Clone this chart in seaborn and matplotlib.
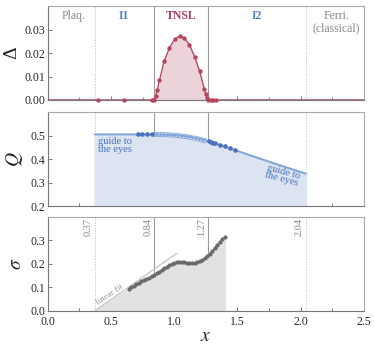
import numpy as np
import pandas as pd
import matplotlib
matplotlib.use("Agg")
import matplotlib.pyplot as plt
import seaborn as sns

sns.set_theme(style="ticks")
plt.rcParams["font.family"] = ["Liberation Serif", "DejaVu Serif"]
plt.rcParams["mathtext.fontset"] = "stix"

# phase boundaries
boundaries = [0.37, 0.84, 1.27, 2.04]
boundary_solid = [False, True, True, False]
boundary_labels = ["0.37", "0.84", "1.27", "2.04"]

regions = ["Plaq.", "I1", "TNSL", "I2", "Ferri.\n(classical)"]
region_x = [0.20, 0.60, 1.055, 1.65, 2.28]
region_colors = ["#888888", "#4f7fc4", "#b13d5e", "#4f7fc4", "#888888"]
region_bold = [False, True, True, True, False]

# Delta (top panel)
delta_x = [0.40, 0.60, 0.82, 0.84, 0.852, 0.865, 0.883, 0.92, 0.962, 1.002,
           1.042, 1.078, 1.12, 1.16, 1.20, 1.237, 1.248, 1.258, 1.27, 1.29,
           1.31, 1.33]
delta_y = [0.0, 0.0, 0.0, 0.0, 0.0019, 0.0043, 0.0086, 0.0166, 0.0224, 0.0261,
           0.0274, 0.0266, 0.0236, 0.0186, 0.0124, 0.0046, 0.0024, 0.0007, 0.0,
           0.0, 0.0, 0.0]

# Q (middle panel)
q_fill_x = [0.71, 0.745, 0.786, 0.825]
q_fill_y = [0.505, 0.505, 0.505, 0.506]
q_open_x = [0.85, 0.878, 0.906, 0.934, 0.962, 0.99, 1.018, 1.046, 1.074, 1.102,
            1.13, 1.158, 1.186, 1.214, 1.24]
q_open_y = [0.505, 0.505, 0.505, 0.504, 0.503, 0.502, 0.501, 0.499, 0.497, 0.495,
            0.492, 0.489, 0.486, 0.482, 0.479]
q_fill2_x = [1.274, 1.29, 1.308, 1.32, 1.36, 1.40, 1.44, 1.48]
q_fill2_y = [0.475, 0.473, 0.470, 0.468, 0.461, 0.454, 0.448, 0.440]
guide_x = [0.37, 0.80, 0.95, 1.05, 1.12, 1.20, 1.27, 1.40, 1.60, 1.80, 2.04]
guide_y = [0.505, 0.505, 0.504, 0.500, 0.495, 0.486, 0.476, 0.453, 0.416, 0.380, 0.338]

# sigma (bottom panel)
sig_x = [0.64, 0.66, 0.68, 0.70, 0.72, 0.74, 0.76, 0.78, 0.80, 0.82, 0.84,
         0.86, 0.88, 0.90, 0.92, 0.94, 0.96, 0.98, 1.00, 1.02, 1.04, 1.06,
         1.08, 1.10, 1.12, 1.14, 1.16, 1.18, 1.20, 1.22, 1.24, 1.26, 1.28,
         1.30, 1.32, 1.34, 1.36, 1.38, 1.40]
sig_y = [0.095, 0.102, 0.108, 0.114, 0.120, 0.126, 0.131, 0.136, 0.141, 0.147,
         0.153, 0.160, 0.167, 0.174, 0.181, 0.188, 0.194, 0.199, 0.204, 0.207,
         0.208, 0.208, 0.207, 0.205, 0.203, 0.202, 0.203, 0.206, 0.211, 0.217,
         0.224, 0.232, 0.243, 0.255, 0.268, 0.281, 0.293, 0.304, 0.313]
fit_x = [0.37, 1.02]
fit_y = [0.0, 0.245]

red = "#b5455f"
blue_line = "#7fa3da"
blue_pt = "#4872bb"
grey_pt = "#6a6a6a"

fig = plt.figure(figsize=(3.74, 3.47), dpi=100)
left, width, h = 0.128, 0.845, 0.271
ax1 = fig.add_axes([left, 0.712, width, h])
ax2 = fig.add_axes([left, 0.406, width, h])
ax3 = fig.add_axes([left, 0.104, width, h])

for ax in (ax1, ax2, ax3):
    ax.set_xlim(0, 2.5)
    ax.set_xticks(np.arange(0, 2.51, 0.5))
    ax.set_xticks(np.arange(0, 2.51, 0.25), minor=True)
    ax.tick_params(which="both", direction="in", length=3, width=0.6,
                   color="#666666", labelsize=8.5, pad=2)
    ax.tick_params(which="minor", length=2)
    for s in ax.spines.values():
        s.set_color("#aaaaaa")
        s.set_linewidth(0.8)
    ax.spines["bottom"].set_color("#777777")
    ax.spines["left"].set_color("#777777")
    for b, solid in zip(boundaries, boundary_solid):
        if solid:
            ax.axvline(b, color="#9a9a9a", lw=0.8, zorder=1)
        else:
            ax.axvline(b, color="#b8b8b8", lw=0.7, ls=":", zorder=1)
ax1.tick_params(labelbottom=False)
ax2.tick_params(labelbottom=False)
ax3.tick_params(axis="x", pad=4)

# top panel
line_df = pd.DataFrame({"x": [0.0] + delta_x + [2.5], "y": [0.0] + delta_y + [0.0]})
ax1.fill_between(line_df["x"], 0, line_df["y"], color="#ecd3da", zorder=2)
sns.lineplot(data=line_df, x="x", y="y", ax=ax1, color=red, lw=0.9, zorder=3)
sns.scatterplot(x=delta_x, y=delta_y, ax=ax1, color=red, s=10, linewidth=0,
                zorder=4, clip_on=False)
ax1.set_ylim(0, 0.0403)
ax1.set_yticks([0.0, 0.01, 0.02, 0.03])
ax1.set_yticklabels(["0.00", "0.01", "0.02", "0.03"])
ax1.set_xlabel("")
ax1.set_ylabel("Δ", fontsize=14, rotation=90, labelpad=3)
for name, rx, c, bold in zip(regions, region_x, region_colors, region_bold):
    ax1.text(rx, 0.0385, name, color=c, ha="center", va="top", fontsize=8.5,
             fontweight="bold" if bold else "normal", linespacing=1.0)

# middle panel
ax2.fill_between(guide_x, 0.2, guide_y, color="#dce4f1", zorder=2)
sns.lineplot(x=guide_x, y=guide_y, ax=ax2, color=blue_line, lw=1.4, zorder=3)
sns.scatterplot(x=q_fill_x + q_fill2_x, y=q_fill_y + q_fill2_y, ax=ax2,
                color=blue_pt, s=11, linewidth=0, zorder=5)
sns.scatterplot(x=q_open_x, y=q_open_y, ax=ax2, facecolor="none",
                edgecolor=blue_line, s=10, linewidth=0.6, zorder=4)
ax2.set_ylim(0.2, 0.6)
ax2.set_yticks([0.2, 0.3, 0.4, 0.5])
ax2.set_ylabel("$Q$", fontsize=14, labelpad=4)
ax2.text(0.40, 0.493, "guide to\nthe eyes", color=blue_pt, fontsize=7.5,
         ha="left", va="top", linespacing=0.8)
ax2.text(1.86, 0.33, "guide to\nthe eyes", color=blue_pt, fontsize=7.5,
         ha="center", va="center", rotation=-15, linespacing=0.8)

# bottom panel
sig_fill_x = fit_x[:1] + sig_x
sig_fill_y = fit_y[:1] + sig_y
ax3.fill_between(sig_fill_x, 0, sig_fill_y, color="#e2e2e2", zorder=2)
sns.lineplot(x=fit_x, y=fit_y, ax=ax3, color="#c8c8c8", lw=1.0, zorder=3)
sns.lineplot(x=sig_x, y=sig_y, ax=ax3, color=grey_pt, lw=0.8, zorder=4)
sns.scatterplot(x=sig_x, y=sig_y, ax=ax3, color=grey_pt, s=9, linewidth=0, zorder=5)
ax3.set_ylim(0, 0.4)
ax3.set_yticks([0.0, 0.1, 0.2, 0.3])
ax3.set_ylabel("$\\sigma$", fontsize=14, labelpad=4)
ax3.set_xlabel("$x$", fontsize=14, labelpad=0)
for b, lab in zip(boundaries, boundary_labels):
    ax3.text(b - 0.015, 0.395, lab, rotation=90, ha="right", va="top",
             fontsize=7.5, color="#888888")
ax3.text(0.49, 0.068, "linear fit", rotation=34, ha="center", va="center",
         fontsize=6.5, color="#999999")

fig.savefig("out.png", dpi=100)
